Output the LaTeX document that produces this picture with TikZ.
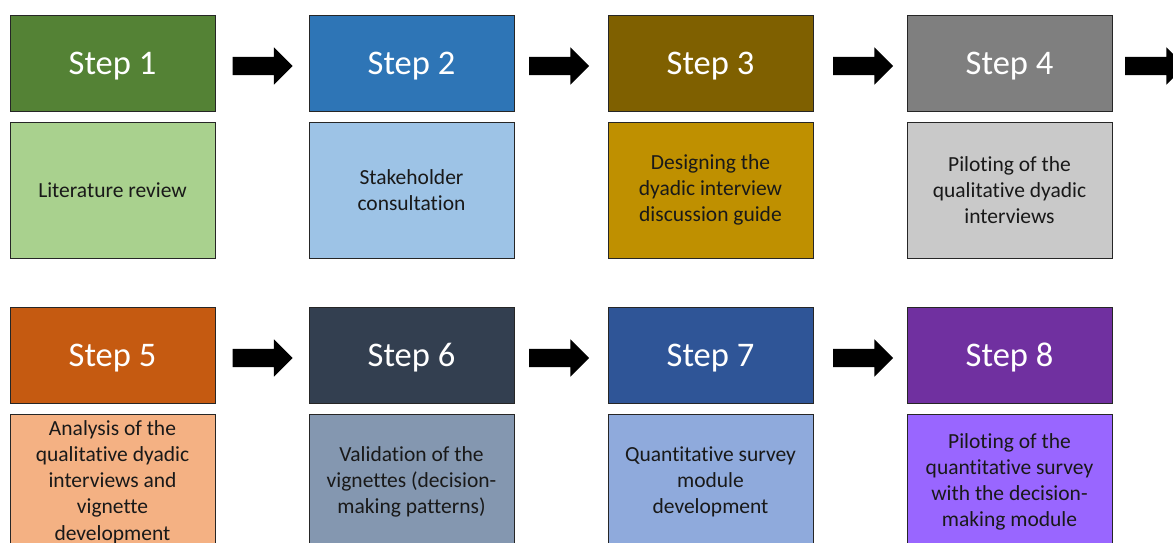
\documentclass[tikz,border=0pt]{standalone}
\usepackage{fontspec}
\setmainfont{Carlito}[Ligatures = NoCommon]
\usetikzlibrary{positioning}
\usetikzlibrary{shapes.arrows}

\definecolor{headA}{HTML}{548235}
\definecolor{headB}{HTML}{2E75B6}
\definecolor{headC}{HTML}{7F6000}
\definecolor{headD}{HTML}{7F7F7F}
\definecolor{headE}{HTML}{C55A11}
\definecolor{headF}{HTML}{333F50}
\definecolor{headG}{HTML}{2F5597}
\definecolor{headH}{HTML}{7030A0}
\definecolor{bodyA}{HTML}{A9D18E}
\definecolor{bodyB}{HTML}{9DC3E6}
\definecolor{bodyC}{HTML}{BF9000}
\definecolor{bodyD}{HTML}{C9C9C9}
\definecolor{bodyE}{HTML}{F4B183}
\definecolor{bodyF}{HTML}{8497B0}
\definecolor{bodyG}{HTML}{8FAADC}
\definecolor{bodyH}{HTML}{9966FF}

\begin{document}
\begin{tikzpicture}[x = 1pt, y = 1pt, node distance = 127pt and 299pt, on grid,
                    head/.style = {rectangle,
                                   draw = black!85,
                                   line width = 1pt,
                                   text = white,
                                   text height = 25pt,
                                   text depth = 2.4pt,
                                   minimum width = 205pt,
                                   minimum height = 96pt,
                                   font = \fontsize{34.5}{40}\selectfont},
                    body/.style = {rectangle,
                                   draw = black!85,
                                   line width = 1pt,
                                   text = black!90,
                                   align = center,
                                   minimum width = 205pt,
                                   minimum height = 136pt,
                                   font = \fontsize{21.5}{26.2}\selectfont},
                    blockarrow/.style = {single arrow,
                                         fill = black,
                                         minimum height = 60pt,
                                         inner xsep = 0pt,
                                         inner ysep = 9pt,
                                         single arrow head extend = 9.5pt,
                                         yshift = -3pt}]

\useasboundingbox (0,0) rectangle (1173,-542);
\clip (0,0) rectangle (1173,-542);

% first row
\node[head] (S1) [fill = headA] at (112.5,-63) {Step 1};
\node[head] (S2) [fill = headB, right = of S1] {Step 2};
\node[head] (S3) [fill = headC, right = of S2] {Step 3};
\node[head] (S4) [fill = headD, right = of S3] {Step 4};

\node[body] (B1) [fill = bodyA, below = of S1] {Literature review};
\node[body] (B2) [fill = bodyB, below = of S2] {Stakeholder\\consultation};
\node[body] (B3) [fill = bodyC, below = of S3] {Designing the\\dyadic interview\\discussion guide};
\node[body] (B4) [fill = bodyD, below = of S4] {Piloting of the\\qualitative dyadic\\interviews};

% second row
\node[head] (S5) [fill = headE, below = 292pt of S1] {Step 5};
\node[head] (S6) [fill = headF, right = of S5] {Step 6};
\node[head] (S7) [fill = headG, right = of S6] {Step 7};
\node[head] (S8) [fill = headH, right = of S7] {Step 8};

\node[body] (B5) [fill = bodyE, below = of S5] {Analysis of the\\qualitative dyadic\\interviews and\\vignette\\development};
\node[body] (B6) [fill = bodyF, below = of S6] {Validation of the\\vignettes (decision-\\making patterns)};
\node[body] (B7) [fill = bodyG, below = of S7] {Quantitative survey\\module\\development};
\node[body] (B8) [fill = bodyH, below = of S8] {Piloting of the\\quantitative survey\\with the decision-\\making module};

% arrows between the steps
\node[blockarrow] (A12) [right = 145.5pt of S1] {};
\node[blockarrow] (A23) [right = 143pt of S2] {};
\node[blockarrow] (A34) [right = 148pt of S3] {};
\node[blockarrow] (A45) [right = 141pt of S4] {};
\node[blockarrow] (A56) [right = 145.5pt of S5] {};
\node[blockarrow] (A67) [right = 143pt of S6] {};
\node[blockarrow] (A78) [right = 148pt of S7] {};

\end{tikzpicture}
\end{document}
